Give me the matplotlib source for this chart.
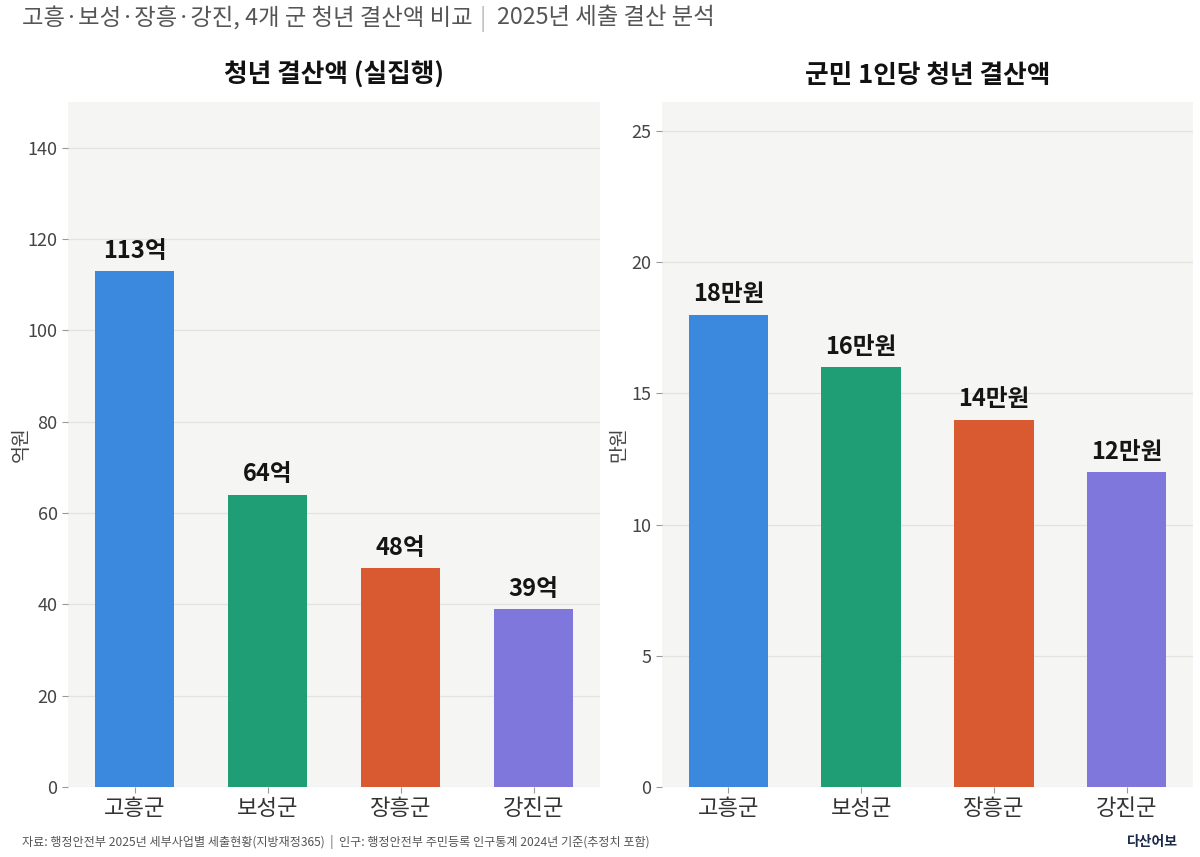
import matplotlib
matplotlib.use("Agg")
import matplotlib.pyplot as plt

plt.rcParams['font.family'] = ['Noto Sans CJK KR', 'DejaVu Sans']

regions = ['고흥군', '보성군', '장흥군', '강진군']
total_eok = [113, 64, 48, 39]
per_capita_manwon = [18, 16, 14, 12]
colors = ['#3a89de', '#1f9e75', '#d95a31', '#8077dd']

left_ticks = [0, 20, 40, 60, 80, 100, 120, 140]
right_ticks = [0, 5, 10, 15, 20, 25]

fig = plt.figure(figsize=(12, 8.57), dpi=100)
fig.patch.set_facecolor('white')

ax1 = fig.add_axes([0.0567, 0.0817, 0.4433, 0.799])
ax2 = fig.add_axes([0.5517, 0.0817, 0.4425, 0.799])

def style(ax, vals, suffix, ylim, ticks, title, ylabel, label_x):
    x = list(range(len(regions)))
    ax.set_facecolor('#f5f5f3')
    ax.bar(x, vals, width=0.6, color=colors, zorder=3)
    ax.set_xlim(-0.5, 3.5)
    ax.set_ylim(0, ylim)
    ax.set_yticks(ticks)
    ax.set_xticks(x)
    ax.set_xticklabels(regions, fontsize=16, color='#333333')
    ax.tick_params(axis='y', labelsize=13, labelcolor='#444444', color='#999999', length=4, width=0.8)
    ax.tick_params(axis='x', color='#999999', length=4, width=0.8, pad=3)
    ax.grid(axis='y', color='#e3e3e0', linewidth=0.9, zorder=0)
    for s in ax.spines.values():
        s.set_visible(False)
    ax.set_ylabel(ylabel, fontsize=14, color='#444444')
    ax.yaxis.set_label_coords(label_x, 0.5)
    ax.set_title(title, fontsize=18.5, fontweight='bold', color='#111111', pad=14)
    for xi, v in zip(x, vals):
        ax.annotate(f'{v}{suffix}', (xi, v), xytext=(0, 6), textcoords='offset points',
                    ha='center', va='bottom', fontsize=17, fontweight='bold', color='#151515')

style(ax1, total_eok, '억', 150, left_ticks, '청년 결산액 (실집행)', '억원', -0.068)
style(ax2, per_capita_manwon, '만원', 26.1, right_ticks, '군민 1인당 청년 결산액', '만원', -0.062)

fig.text(0.018, 0.980, '고흥·보성·장흥·강진, 4개 군 청년 결산액 비교', fontsize=16.8, color='#555555', va='center', ha='left')
fig.text(0.400, 0.978, '|', fontsize=16.8, color='#bbbbbb', va='center', ha='left')
fig.text(0.414, 0.980, '2025년 세출 결산 분석', fontsize=16.8, color='#555555', va='center', ha='left')

fig.text(0.018, 0.017, '자료: 행정안전부 2025년 세부사업별 세출현황(지방재정365)  |  인구: 행정안전부 주민등록 인구통계 2024년 기준(추정치 포함)',
         fontsize=8.7, color='#555555', va='center', ha='left')
fig.text(0.982, 0.017, '다산어보', fontsize=10, fontweight='bold', color='#1b2a4a', va='center', ha='right')

fig.savefig('out.png', dpi=100, facecolor='white')
